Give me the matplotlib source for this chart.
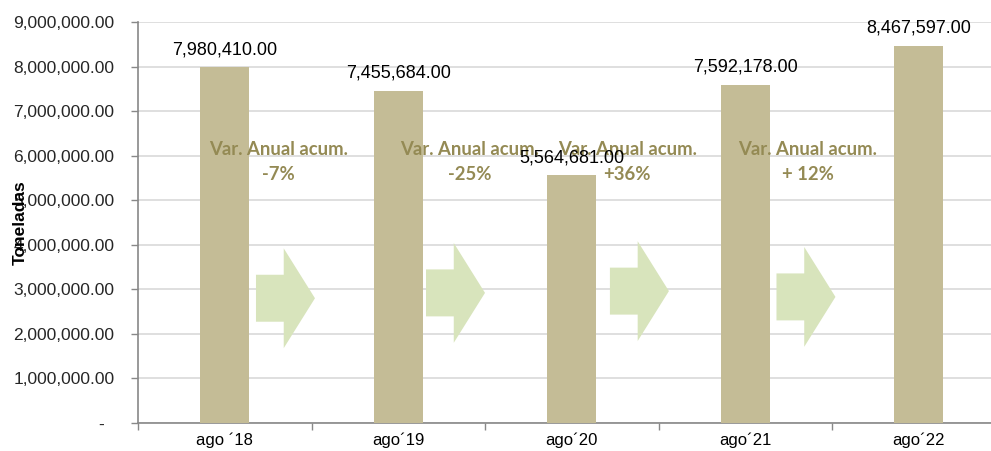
import matplotlib.pyplot as plt
from matplotlib.patches import Polygon
from matplotlib.ticker import FuncFormatter

categorias = ['ago ´18', 'ago´19', 'ago´20', 'ago´21', 'ago´22']
toneladas = [7980410.00, 7455684.00, 5564681.00, 7592178.00, 8467597.00]
var_titulo = 'Var. Anual acum.'
var_pct = ['-7%', '-25%', '+36%', '+ 12%']

color_barra = '#C4BC96'
color_flecha = '#D8E4BC'
color_var = '#948A54'

plt.rcParams['font.family'] = ['Liberation Sans', 'DejaVu Sans']

fig = plt.figure(figsize=(9.91, 4.51), dpi=100)
ax = fig.add_axes([138 / 991, 28 / 451, 867.5 / 991, 401 / 451])

x = list(range(len(categorias)))
ax.bar(x, toneladas, width=0.28, color=color_barra, zorder=3)

for xi, v in zip(x, toneladas):
    ax.annotate(f'{v:,.2f}', (xi, v), xytext=(0, 12.5), textcoords='offset points',
                ha='center', va='center', fontsize=13, color='black', zorder=6)

# flechas y textos de variacion
txt_off = [0.31, 0.41, 0.32, 0.36]
arr_off = [0.18, 0.16, 0.22, 0.18]
arr_y = [2.80e6, 2.92e6, 2.96e6, 2.83e6]
for i in range(len(var_pct)):
    x0 = i + arr_off[i]
    xb = x0 + 0.16
    xt = xb + 0.18
    yc = arr_y[i]
    sh = 0.527e6
    hh = 1.12e6
    pts = [(x0, yc - sh), (x0, yc + sh), (xb, yc + sh), (xb, yc + hh),
           (xt, yc), (xb, yc - hh), (xb, yc - sh)]
    ax.add_patch(Polygon(pts, closed=True, facecolor=color_flecha,
                         edgecolor='none', zorder=4))
    ax.text(i + txt_off[i], 6.13e6, var_titulo, ha='center', va='center',
            fontsize=13.3, fontweight='bold', color=color_var, family='Lato', zorder=5)
    ax.text(i + txt_off[i], 5.57e6, var_pct[i], ha='center', va='center',
            fontsize=13.3, fontweight='bold', color=color_var, family='Lato', zorder=5)

ax.set_xlim(-0.5, 4.5)
ax.set_ylim(0, 9e6)
ax.set_yticks(range(0, 9000001, 1000000))
ax.yaxis.set_major_formatter(FuncFormatter(lambda v, p: '-  ' if v == 0 else f'{v:,.2f}'))
ax.set_xticks(x)
ax.set_xticklabels(categorias)
ax.set_xticks([i - 0.5 for i in range(len(categorias) + 1)], minor=True)
ax.tick_params(axis='x', which='major', length=0, pad=7, labelsize=12, labelcolor='black')
ax.tick_params(axis='x', which='minor', length=5, width=1, color='#888888')
ax.tick_params(axis='y', length=5, width=1, color='#888888', pad=12,
               labelsize=12.5, labelcolor='#262626')

ax.grid(axis='y', color='#D9D9D9', linewidth=1.2, zorder=0)
ax.set_axisbelow(True)
for s in ['top', 'right']:
    ax.spines[s].set_visible(False)
for s in ['left', 'bottom']:
    ax.spines[s].set_color('#888888')
    ax.spines[s].set_linewidth(1.2)

fig.text(20 / 991, 1 - 223 / 451, 'Toneladas', rotation=90, ha='center', va='center',
         fontsize=12.5, fontweight='bold', color='black')

fig.savefig('out.png', dpi=100)
